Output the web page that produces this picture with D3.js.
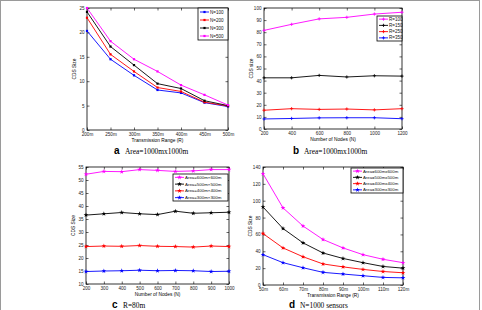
<!DOCTYPE html>
<html>
<head>
<meta charset="utf-8">
<script src="https://cdn.jsdelivr.net/npm/d3@7"></script>
<style>
  body { margin: 0; background: #fff; }
  svg { display: block; font-family: "Liberation Sans", Arial, sans-serif; }
  .tick text { fill: #222; }
</style>
</head>
<body>
<script>
// panel a: CDS size vs transmission range, area 1000x1000
var rangeLabelsA = ["200m", "250m", "300m", "350m", "400m", "450m", "500m"];
var seriesNamesA = ["N=100", "N=200", "N=300", "N=500"];
var cdsA_n100 = [20.3, 14.5, 11.2, 8.2, 7.6, 5.6, 4.8];
var cdsA_n200 = [23.0, 15.5, 12.0, 8.7, 7.9, 5.7, 4.9];
var cdsA_n300 = [24.2, 17.1, 13.3, 9.5, 8.5, 6.0, 5.0];
var cdsA_n500 = [25.0, 18.2, 14.5, 12.0, 9.2, 7.2, 5.1];
var yTicksA = [0, 5, 10, 15, 20, 25];

// panel b: CDS size vs number of nodes
var nodesB = [200, 400, 600, 800, 1000, 1200];
var seriesNamesB = ["R=100", "R=150", "R=250", "R=350"];
var cdsB_r100 = [81.5, 86.5, 91.0, 92.3, 95.0, 96.5];
var cdsB_r150 = [42.3, 42.3, 44.3, 43.0, 44.0, 43.7];
var cdsB_r250 = [15.5, 16.8, 16.2, 16.5, 15.8, 16.8];
var cdsB_r350 = [8.3, 8.7, 9.2, 9.3, 9.3, 8.5];
var yTicksB = [0, 10, 20, 30, 40, 50, 60, 70, 80, 90, 100];

// panel c: CDS size vs number of nodes, R=80m
var nodesC = [200, 300, 400, 500, 600, 700, 800, 900, 1000];
var seriesNamesC = ["Area=600m\u00d7600m", "Area=500m\u00d7500m", "Area=400m\u00d7400m", "Area=300m\u00d7300m"];
var cdsC_600 = [52.2, 53.3, 53.2, 54.0, 53.7, 53.3, 53.5, 54.0, 54.0];
var cdsC_500 = [36.5, 37.0, 37.5, 37.0, 36.7, 38.0, 37.2, 37.4, 37.6];
var cdsC_400 = [24.4, 24.6, 24.5, 24.8, 24.5, 24.4, 24.2, 24.6, 24.4];
var cdsC_300 = [14.8, 15.0, 15.1, 15.3, 15.1, 15.2, 15.1, 14.8, 14.9];
var yTicksC = [10, 15, 20, 25, 30, 35, 40, 45, 50, 55];

// panel d: CDS size vs transmission range, N=1000
var rangeLabelsD = ["50m", "60m", "70m", "80m", "90m", "100m", "110m", "120m"];
var seriesNamesD = ["Area=600mx600m", "Area=500mx500m", "Area=400mx400m", "Area=300mx300m"];
var cdsD_600 = [132, 91.5, 70, 54, 44, 36, 30.5, 26.5];
var cdsD_500 = [92.5, 67, 50, 38, 31.5, 26.5, 22, 20];
var cdsD_400 = [61, 44, 33.5, 25, 21.5, 18.5, 16, 14.5];
var cdsD_300 = [36, 26.5, 20.5, 15, 13, 11, 9, 8.5];
var yTicksD = [0, 20, 40, 60, 80, 100, 120, 140];

var colors = { blue: "#0000ff", red: "#ff0000", black: "#000000", magenta: "#ff00ff" };

var svg = d3.select("body").append("svg")
    .attr("width", 482)
    .attr("height", 310);

svg.append("rect")
    .attr("x", 0.5).attr("y", 0.5)
    .attr("width", 479).attr("height", 312)
    .attr("fill", "none")
    .attr("stroke", "#9a9a9a");

function drawMarker(g, shape, x, y, color){
  if(shape == "square"){
    g.append("rect").attr("x", x - 1.1).attr("y", y - 1.1)
      .attr("width", 2.2).attr("height", 2.2).attr("fill", color);
  } else if(shape == "plus"){
    g.append("path").attr("d", "M" + (x - 1.6) + "," + y + "h3.2M" + x + "," + (y - 1.6) + "v3.2")
      .attr("stroke", color).attr("stroke-width", 0.8);
  } else {
    g.append("path")
      .attr("transform", "translate(" + x + "," + y + ")")
      .attr("d", d3.symbol().type(d3.symbolStar).size(7)())
      .attr("fill", color);
  }
}

function panel(cfg){
  var g = svg.append("g");
  var x = cfg.x, y = cfg.y;

  // box
  g.append("rect")
    .attr("x", cfg.left).attr("y", cfg.top)
    .attr("width", cfg.right - cfg.left).attr("height", cfg.bottom - cfg.top)
    .attr("fill", "none").attr("stroke", "#000").attr("stroke-width", 0.8);

  var xAxis = d3.axisBottom(x).tickSize(-2.5).tickPadding(2.5);
  if(cfg.xTicks) xAxis.tickValues(cfg.xTicks).tickFormat(d3.format("d"));
  var yAxis = d3.axisLeft(y).tickValues(cfg.yTicks).tickSize(-2.5).tickPadding(2.5);

  var xg = g.append("g")
      .attr("transform", "translate(0," + cfg.bottom + ")")
      .call(xAxis);
  var yg = g.append("g")
      .attr("transform", "translate(" + cfg.left + ",0)")
      .call(yAxis);
  // ticks on top and right too
  var xt = g.append("g")
      .attr("transform", "translate(0," + cfg.top + ")")
      .call(d3.axisTop(x).tickValues(cfg.xTicks || x.domain()).tickSize(-2.5).tickFormat(""));
  var yt = g.append("g")
      .attr("transform", "translate(" + cfg.right + ",0)")
      .call(d3.axisRight(y).tickValues(cfg.yTicks).tickSize(-2.5).tickFormat(""));

  [xg, yg, xt, yt].forEach(function(a){
    a.select(".domain").remove();
    a.selectAll("line").attr("stroke", "#000").attr("stroke-width", 0.6);
    a.selectAll("text").style("font-size", "4.6px");
  });

  // series
  cfg.series.forEach(function(s){
    var line = d3.line()
      .x(function(d, i){ return x(cfg.xVals[i]); })
      .y(function(d){ return y(d); });
    g.append("path")
      .datum(s.values)
      .attr("d", line)
      .attr("fill", "none")
      .attr("stroke", s.color)
      .attr("stroke-width", 0.9);
    s.values.forEach(function(v, i){
      drawMarker(g, cfg.marker, x(cfg.xVals[i]), y(v), s.color);
    });
  });

  // legend
  var lg = cfg.legend;
  g.append("rect")
    .attr("x", lg.x).attr("y", lg.y)
    .attr("width", lg.w).attr("height", lg.h)
    .attr("fill", "#fff").attr("stroke", "#000").attr("stroke-width", 0.8);
  var rowH = lg.h / cfg.series.length;
  cfg.series.forEach(function(s, i){
    var cy = lg.y + rowH * (i + 0.5);
    g.append("line")
      .attr("x1", lg.x + 2).attr("x2", lg.x + 11)
      .attr("y1", cy).attr("y2", cy)
      .attr("stroke", s.color).attr("stroke-width", 0.9);
    drawMarker(g, cfg.marker, lg.x + 6.5, cy, s.color);
    g.append("text")
      .attr("x", lg.x + 12).attr("y", cy + 1.6)
      .style("font-size", lg.font + "px")
      .attr("fill", "#111")
      .text(s.name);
  });

  // axis titles
  g.append("text")
    .attr("x", (cfg.left + cfg.right) / 2)
    .attr("y", cfg.bottom + 12)
    .style("text-anchor", "middle")
    .style("font-size", "4.8px")
    .text(cfg.xTitle);
  g.append("text")
    .attr("transform", "translate(" + (cfg.left - 11) + "," + ((cfg.top + cfg.bottom) / 2) + ") rotate(-90)")
    .style("text-anchor", "middle")
    .style("font-size", "4.8px")
    .text(cfg.yTitle);

  // caption
  g.append("text")
    .attr("x", cfg.capX).attr("y", cfg.capY)
    .style("font-size", "10px")
    .style("font-weight", "bold")
    .text(cfg.letter);
  g.append("text")
    .attr("x", cfg.capX + 11).attr("y", cfg.capY)
    .style("font-family", "'Liberation Serif', 'DejaVu Serif', serif")
    .style("font-size", "7.4px")
    .text(cfg.caption);
}

// a
var xA = d3.scalePoint().domain(rangeLabelsA).range([87, 228]);
var yA = d3.scaleLinear().domain([0, 25]).range([130, 8]);
panel({
  x: xA, y: yA, left: 87, right: 228, top: 8, bottom: 130,
  xVals: rangeLabelsA, yTicks: yTicksA, marker: "square",
  series: [
    { name: seriesNamesA[0], values: cdsA_n100, color: colors.blue },
    { name: seriesNamesA[1], values: cdsA_n200, color: colors.red },
    { name: seriesNamesA[2], values: cdsA_n300, color: colors.black },
    { name: seriesNamesA[3], values: cdsA_n500, color: colors.magenta }
  ],
  legend: { x: 198, y: 8, w: 30, h: 32, font: 4.5 },
  xTitle: "Transmission Range (R)", yTitle: "CDS Size",
  letter: "a", caption: "Area=1000mx1000m", capX: 114, capY: 154
});

// b
var xB = d3.scaleLinear().domain([200, 1200]).range([264, 402]);
var yB = d3.scaleLinear().domain([0, 100]).range([129, 8]);
panel({
  x: xB, y: yB, left: 264, right: 402, top: 8, bottom: 129,
  xVals: nodesB, xTicks: nodesB, yTicks: yTicksB, marker: "plus",
  series: [
    { name: seriesNamesB[0], values: cdsB_r100, color: colors.magenta },
    { name: seriesNamesB[1], values: cdsB_r150, color: colors.black },
    { name: seriesNamesB[2], values: cdsB_r250, color: colors.red },
    { name: seriesNamesB[3], values: cdsB_r350, color: colors.blue }
  ],
  legend: { x: 377, y: 16, w: 25, h: 25, font: 4.5 },
  xTitle: "Number of Nodes (N)", yTitle: "CDS size",
  letter: "b", caption: "Area=1000mx1000m", capX: 293, capY: 154
});

// c
var xC = d3.scaleLinear().domain([200, 1000]).range([86, 229]);
var yC = d3.scaleLinear().domain([10, 55]).range([284, 167]);
panel({
  x: xC, y: yC, left: 86, right: 229, top: 167, bottom: 284,
  xVals: nodesC, xTicks: nodesC, yTicks: yTicksC, marker: "star",
  series: [
    { name: seriesNamesC[0], values: cdsC_600, color: colors.magenta },
    { name: seriesNamesC[1], values: cdsC_500, color: colors.black },
    { name: seriesNamesC[2], values: cdsC_400, color: colors.red },
    { name: seriesNamesC[3], values: cdsC_300, color: colors.blue }
  ],
  legend: { x: 173, y: 174, w: 55, h: 27, font: 4.4 },
  xTitle: "Number of Nodes (N)", yTitle: "CDS Size",
  letter: "c", caption: "R=80m", capX: 112, capY: 308
});

// d
var xD = d3.scalePoint().domain(rangeLabelsD).range([263, 403]);
var yD = d3.scaleLinear().domain([0, 140]).range([285, 167]);
panel({
  x: xD, y: yD, left: 263, right: 403, top: 167, bottom: 285,
  xVals: rangeLabelsD, yTicks: yTicksD, marker: "star",
  series: [
    { name: seriesNamesD[0], values: cdsD_600, color: colors.magenta },
    { name: seriesNamesD[1], values: cdsD_500, color: colors.black },
    { name: seriesNamesD[2], values: cdsD_400, color: colors.red },
    { name: seriesNamesD[3], values: cdsD_300, color: colors.blue }
  ],
  legend: { x: 351, y: 168, w: 52, h: 25, font: 4.3 },
  xTitle: "Transmission Range (R)", yTitle: "CDS Size",
  letter: "d", caption: "N=1000 sensors", capX: 289, capY: 308
});
</script>
</body>
</html>
